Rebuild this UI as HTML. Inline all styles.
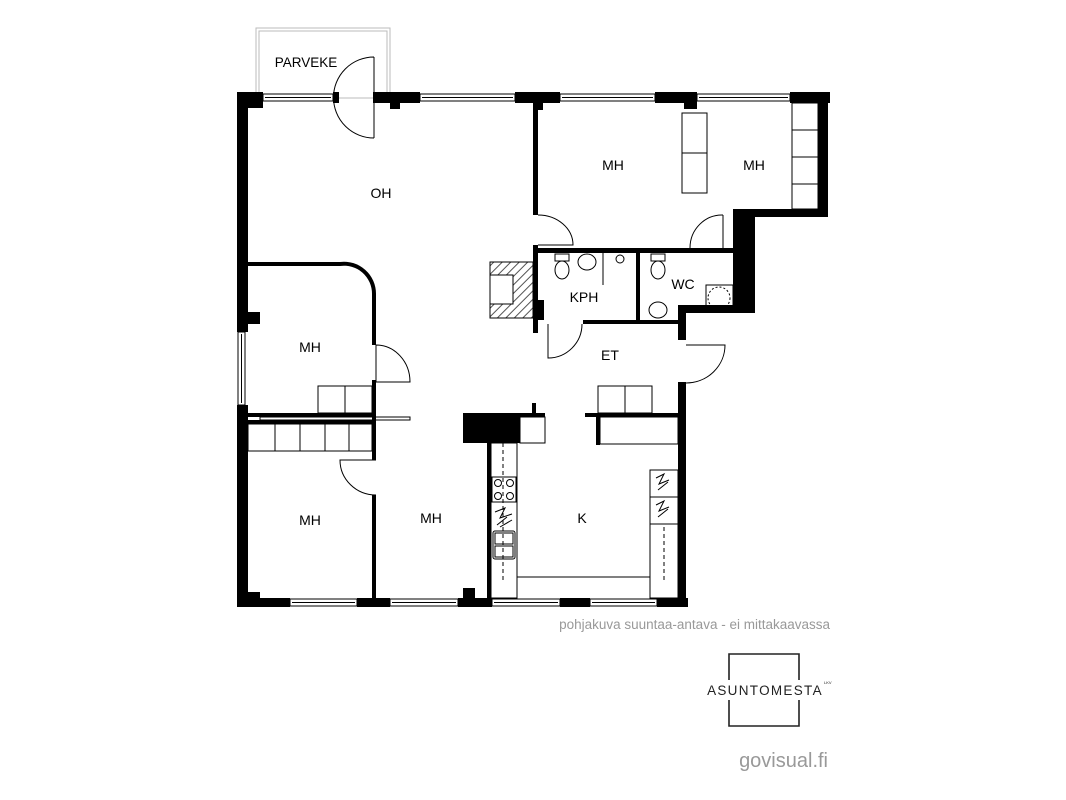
<!DOCTYPE html>
<html><head><meta charset="utf-8"><style>
html,body{margin:0;padding:0;background:#fff;}
svg{display:block;}
text{font-family:"Liberation Sans",sans-serif;}
</style></head><body>
<svg width="1066" height="800" viewBox="0 0 1066 800" xmlns="http://www.w3.org/2000/svg">
<defs>
<pattern id="h" width="6" height="6" patternUnits="userSpaceOnUse" patternTransform="rotate(45)">
<rect width="6" height="6" fill="#fff"/><line x1="0" y1="0" x2="0" y2="6" stroke="#555" stroke-width="2"/></pattern>
</defs>
<rect x="256" y="28" width="134" height="70" fill="none" stroke="#bbb" stroke-width="1"/>
<rect x="259" y="31" width="128" height="67" fill="none" stroke="#bbb" stroke-width="1"/>
<text x="306" y="67" font-size="13.5" text-anchor="middle">PARVEKE</text>
<g fill="#000">
<rect x="237" y="92" width="26" height="11"/>
<rect x="248" y="92" width="15" height="16"/>
<rect x="333" y="92" width="6" height="11"/>
<rect x="373" y="92" width="47" height="11"/>
<rect x="390" y="92" width="10" height="17"/>
<rect x="515" y="92" width="45" height="11"/>
<rect x="533" y="92" width="10" height="18"/>
<rect x="655" y="92" width="42" height="11"/>
<rect x="684" y="92" width="13" height="17"/>
<rect x="790" y="92" width="40" height="11"/>
<rect x="818" y="92" width="10" height="125"/>
<rect x="733" y="209" width="95" height="8"/>
<rect x="733" y="209" width="22" height="104"/>
<rect x="678" y="305" width="77" height="8"/>
<rect x="678" y="305" width="8" height="35"/>
<rect x="678" y="382" width="8" height="225"/>
<rect x="237" y="92" width="11" height="240"/>
<rect x="237" y="405" width="11" height="202"/>
<rect x="248" y="312" width="12" height="12"/>
<rect x="248" y="592" width="12" height="8"/>
<rect x="237" y="598" width="53" height="9"/>
<rect x="357" y="598" width="33" height="9"/>
<rect x="458" y="598" width="34" height="9"/>
<rect x="463" y="588" width="12" height="12"/>
<rect x="560" y="598" width="30" height="9"/>
<rect x="657" y="598" width="31" height="9"/>
<rect x="533" y="103" width="5" height="112"/>
<rect x="533" y="245" width="5" height="88"/>
<rect x="538" y="248" width="197" height="5"/>
<rect x="538" y="300" width="6" height="20"/>
<rect x="636" y="250" width="4" height="72"/>
<rect x="583" y="320" width="97" height="4"/>
<path d="M248 262 H340 A32 32 0 0 1 376 294 V345 H372 V294 A28 28 0 0 0 340 266 H248 Z"/>
<rect x="372" y="380" width="4" height="40"/>
<rect x="248" y="413" width="128" height="4"/>
<rect x="248" y="420" width="128" height="4"/>
<rect x="372" y="424" width="4" height="36"/>
<rect x="372" y="495" width="4" height="105"/>
<rect x="463" y="413" width="57" height="30"/>
<rect x="463" y="413" width="82" height="4"/>
<rect x="532" y="403" width="4" height="12"/>
<rect x="487" y="443" width="4" height="157"/>
<rect x="585" y="413" width="95" height="4"/>
<rect x="596" y="413" width="4" height="32"/>
</g>
<g fill="#fff" stroke="#000" stroke-width="1">
<rect x="263" y="94" width="70" height="7"/>
<rect x="420" y="94" width="95" height="7"/>
<rect x="560" y="94" width="95" height="7"/>
<rect x="697" y="94" width="93" height="7"/>
<rect x="290" y="599" width="67" height="7"/>
<rect x="390" y="599" width="68" height="7"/>
<rect x="492" y="599" width="68" height="7"/>
<rect x="590" y="599" width="67" height="7"/>
<rect x="238" y="332" width="7" height="73"/>
</g>
<g stroke="#000" stroke-width="1" fill="none">
<line x1="265" y1="97.5" x2="331" y2="97.5"/><line x1="422" y1="97.5" x2="513" y2="97.5"/>
<line x1="562" y1="97.5" x2="653" y2="97.5"/><line x1="699" y1="97.5" x2="788" y2="97.5"/>
<line x1="292" y1="602.5" x2="355" y2="602.5"/><line x1="392" y1="602.5" x2="456" y2="602.5"/>
<line x1="494" y1="602.5" x2="558" y2="602.5"/><line x1="592" y1="602.5" x2="655" y2="602.5"/>
<line x1="241.5" y1="334" x2="241.5" y2="403"/>
<path d="M374 57 V138 M374 57 A40 40 0 0 0 374 138"/>
<path d="M538 245 H573 A35 30 0 0 0 538 215"/>
<path d="M723 215 V248 M723 215 A32 33 0 0 0 690 248"/>
<path d="M548 324 V358 A34 34 0 0 0 582 324"/>
<path d="M686 345 H725 A39 38 0 0 1 686 383"/>
<path d="M376 345 V382 H410 A34 37 0 0 0 376 345"/>
<path d="M376 460 H340 A36 35 0 0 0 376 495"/>
<rect x="682" y="113" width="25" height="40"/><rect x="682" y="153" width="25" height="40"/>
<rect x="792" y="103" width="26" height="27"/><rect x="792" y="130" width="26" height="27"/>
<rect x="792" y="157" width="26" height="27"/><rect x="792" y="184" width="26" height="25"/>
<rect x="318" y="386" width="27" height="27"/><rect x="345" y="386" width="27" height="27"/>
<rect x="248" y="424" width="27" height="27"/><rect x="275" y="424" width="25" height="27"/>
<rect x="300" y="424" width="25" height="27"/><rect x="325" y="424" width="24" height="27"/>
<rect x="349" y="424" width="23" height="27"/>
<rect x="598" y="386" width="27" height="27"/><rect x="625" y="386" width="27" height="27"/>
<rect x="260" y="417" width="150" height="3"/>
<rect x="520" y="417" width="25" height="26"/>
<rect x="600" y="417" width="78" height="27"/>
<rect x="491" y="443" width="26" height="155"/>
<line x1="517" y1="577" x2="650" y2="577"/>
<rect x="650" y="470" width="28" height="128"/>
<line x1="650" y1="497" x2="678" y2="497"/><line x1="650" y1="524" x2="678" y2="524"/>
<rect x="492" y="477" width="24" height="25"/>
<circle cx="498" cy="483" r="3.5"/><circle cx="510" cy="483" r="3.5"/>
<circle cx="498" cy="496" r="3.5"/><circle cx="510" cy="496" r="3.5"/>
<path d="M495 512 L505 508 L500 518 L512 514 M497 525 L507 517 M500 527 L512 520"/>
<path d="M656 478 L664 474 L659 484 L669 480 M658 490 L668 482"/>
<path d="M656 505 L664 501 L659 511 L669 507 M658 517 L668 509"/>
<rect x="493" y="531" width="22" height="28" rx="2"/>
<rect x="495" y="533" width="18" height="11"/><rect x="495" y="546" width="18" height="11"/>
<line x1="503" y1="443" x2="503" y2="583" stroke-dasharray="4,3"/>
<line x1="664" y1="527" x2="664" y2="583" stroke-dasharray="4,3"/>
<rect x="490" y="262" width="43" height="56" fill="url(#h)"/>
<rect x="490" y="275" width="23" height="29" fill="#fff"/>
<ellipse cx="562" cy="270" rx="7" ry="9"/><rect x="555" y="254" width="14" height="7"/>
<ellipse cx="587" cy="262" rx="9" ry="8"/>
<line x1="603" y1="253" x2="603" y2="285"/>
<circle cx="620" cy="259" r="4"/>
<ellipse cx="658" cy="270" rx="7" ry="9"/><rect x="651" y="254" width="14" height="7"/>
<ellipse cx="658" cy="310" rx="9" ry="8"/>
<rect x="706" y="285" width="27" height="26"/>
<circle cx="719" cy="298" r="11" stroke-dasharray="2,2"/>
</g>
<g font-size="14" text-anchor="middle" fill="#000">
<text x="381" y="198">OH</text>
<text x="613" y="170">MH</text>
<text x="754" y="170">MH</text>
<text x="584" y="302">KPH</text>
<text x="683" y="289">WC</text>
<text x="310" y="352">MH</text>
<text x="610" y="360">ET</text>
<text x="310" y="525">MH</text>
<text x="431" y="523">MH</text>
<text x="582" y="523">K</text>
</g>
<text x="830" y="629" font-size="13.5" fill="#999" text-anchor="end">pohjakuva suuntaa-antava - ei mittakaavassa</text>
<g stroke="#222" stroke-width="1.6" fill="none">
<path d="M729 680 V654 H799 V680 M729 700 V726 H799 V700"/>
</g>
<text x="765" y="695" font-size="13.5" text-anchor="middle" fill="#222" letter-spacing="1.3">ASUNTOMESTA</text>
<text x="824" y="684" font-size="4" fill="#222">LKV</text>
<text x="828" y="767" font-size="20" fill="#999" text-anchor="end">govisual.fi</text>
</svg>
</body></html>
